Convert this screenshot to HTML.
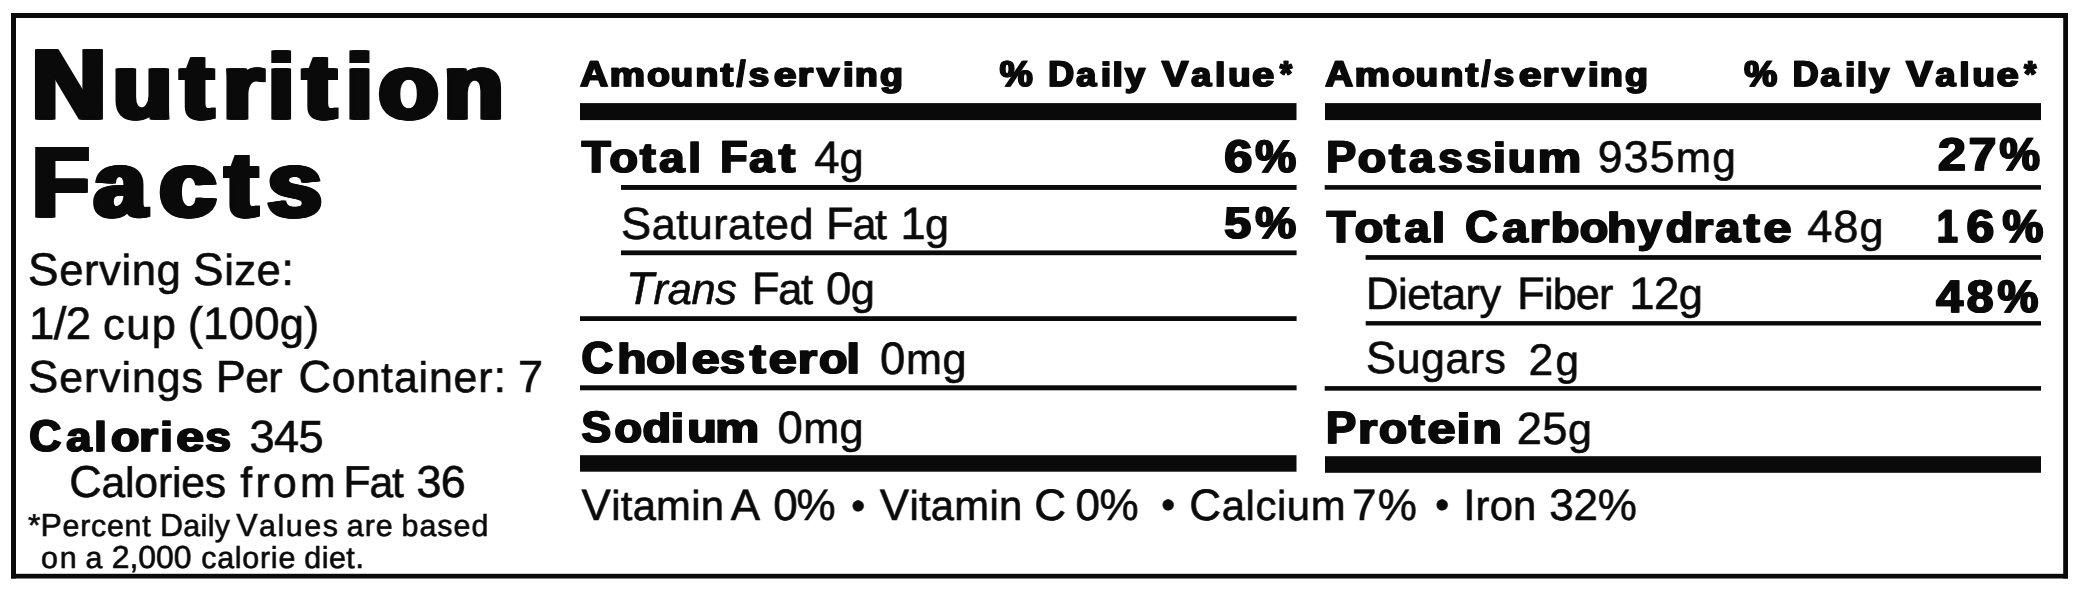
<!DOCTYPE html>
<html><head><meta charset="utf-8"><title>Nutrition Facts</title>
<style>
html,body{margin:0;padding:0;background:#fff;width:2082px;height:594px;overflow:hidden}
svg{display:block;filter:grayscale(1)}
text{font-family:"Liberation Sans",sans-serif;font-kerning:none;font-variant-ligatures:none;text-rendering:geometricPrecision;fill:#0a0a0a}
.b{font-weight:700}
.i{font-style:italic}
</style></head><body>
<svg width="2082" height="594" viewBox="0 0 2082 594">
<rect x="0" y="0" width="2082" height="594" fill="#fff"/>
<rect x="11" y="13" width="2057" height="5" fill="#0a0a0a"/>
<rect x="11" y="573.8" width="2057" height="4.7" fill="#0a0a0a"/>
<rect x="11" y="13" width="5" height="565.5" fill="#0a0a0a"/>
<rect x="2063.2" y="13" width="4.8" height="565.5" fill="#0a0a0a"/>
<rect x="580" y="103.1" width="716.5" height="17" fill="#0a0a0a"/>
<rect x="1325" y="103.1" width="716" height="17" fill="#0a0a0a"/>
<rect x="580" y="455.2" width="716.5" height="16.5" fill="#0a0a0a"/>
<rect x="1325" y="456.2" width="716" height="16.6" fill="#0a0a0a"/>
<rect x="621" y="185" width="675.6" height="4.9" fill="#0a0a0a"/>
<rect x="621" y="250.4" width="675.6" height="4.8" fill="#0a0a0a"/>
<rect x="580" y="316.2" width="716.6" height="4.8" fill="#0a0a0a"/>
<rect x="580" y="385.3" width="716.6" height="5" fill="#0a0a0a"/>
<rect x="1324.7" y="185.1" width="716.3" height="4.6" fill="#0a0a0a"/>
<rect x="1365.6" y="255.1" width="675.4" height="4.7" fill="#0a0a0a"/>
<rect x="1365.7" y="321.1" width="675.3" height="4.4" fill="#0a0a0a"/>
<rect x="1324.7" y="386.1" width="716.3" height="4.6" fill="#0a0a0a"/>
<defs><filter id="smH" x="-5%" y="-5%" width="110%" height="110%" color-interpolation-filters="sRGB"><feOffset in="SourceGraphic" dx="1" dy="0" result="o0"/><feOffset in="SourceGraphic" dx="2" dy="0" result="o1"/><feOffset in="SourceGraphic" dx="3" dy="0" result="o2"/><feOffset in="SourceGraphic" dx="4" dy="0" result="o3"/><feMerge><feMergeNode in="SourceGraphic"/><feMergeNode in="o0"/><feMergeNode in="o1"/><feMergeNode in="o2"/><feMergeNode in="o3"/></feMerge></filter>
<filter id="smRB" x="-5%" y="-5%" width="110%" height="110%" color-interpolation-filters="sRGB"><feOffset in="SourceGraphic" dx="1" dy="0" result="o0"/><feMerge><feMergeNode in="SourceGraphic"/><feMergeNode in="o0"/></feMerge></filter>
<filter id="smHB" x="-5%" y="-5%" width="110%" height="110%" color-interpolation-filters="sRGB"><feOffset in="SourceGraphic" dx="1" dy="0" result="o0"/><feMerge><feMergeNode in="SourceGraphic"/><feMergeNode in="o0"/></feMerge></filter></defs>
<g filter="url(#smH)">
<text class="b" font-size="97.68" stroke="#0a0a0a" stroke-width="3.2" transform="translate(29.79 118.2) scale(1.0557 1)">N</text>
<text class="b" font-size="97.68" stroke="#0a0a0a" stroke-width="3.2" transform="translate(111.32 118.2) scale(1.0602 1)"><tspan font-size="90.84">u</tspan></text>
<text class="b" font-size="97.68" stroke="#0a0a0a" stroke-width="3.2" transform="translate(178.63 118.2) scale(1.0758 1)"><tspan font-size="90.84">t</tspan></text>
<text class="b" font-size="97.68" stroke="#0a0a0a" stroke-width="3.2" transform="translate(220.96 118.2) scale(1.1479 1)"><tspan font-size="90.84">r</tspan></text>
<text class="b" font-size="97.68" stroke="#0a0a0a" stroke-width="3.2" transform="translate(266.62 118.2) scale(1.0087 1)"><tspan font-size="90.84">i</tspan></text>
<text class="b" font-size="97.68" stroke="#0a0a0a" stroke-width="3.2" transform="translate(301.33 118.2) scale(1.0854 1)"><tspan font-size="90.84">t</tspan></text>
<text class="b" font-size="97.68" stroke="#0a0a0a" stroke-width="3.2" transform="translate(344.53 118.2) scale(1.0279 1)"><tspan font-size="90.84">i</tspan></text>
<text class="b" font-size="97.68" stroke="#0a0a0a" stroke-width="3.2" transform="translate(376.71 118.2) scale(1.0738 1)"><tspan font-size="90.84">o</tspan></text>
<text class="b" font-size="97.68" stroke="#0a0a0a" stroke-width="3.2" transform="translate(442 118.2) scale(1.0708 1)"><tspan font-size="90.84">n</tspan></text>
<text class="b" font-size="97.97" stroke="#0a0a0a" stroke-width="3.2" transform="translate(30.54 216.3) scale(0.9414 1)">F</text>
<text class="b" font-size="97.97" stroke="#0a0a0a" stroke-width="3.2" transform="translate(92.1 216.3) scale(1.0294 1)"><tspan font-size="91.11">a</tspan></text>
<text class="b" font-size="97.97" stroke="#0a0a0a" stroke-width="3.2" transform="translate(157.51 216.3) scale(1.1167 1)"><tspan font-size="91.11">c</tspan></text>
<text class="b" font-size="97.97" stroke="#0a0a0a" stroke-width="3.2" transform="translate(223.41 216.3) scale(1.0538 1)"><tspan font-size="91.11">t</tspan></text>
<text class="b" font-size="97.97" stroke="#0a0a0a" stroke-width="3.2" transform="translate(265.7 216.3) scale(1.0633 1)"><tspan font-size="91.11">s</tspan></text>
</g>
<g>
<text font-size="45.79" letter-spacing="0.61" stroke="#0a0a0a" stroke-width="0.6" transform="translate(28.02 284.7) scale(1 1)">S<tspan font-size="43.5">erving</tspan></text>
<text font-size="45.79" letter-spacing="0.47" stroke="#0a0a0a" stroke-width="0.6" transform="translate(193.12 284.7) scale(1 1)">S<tspan font-size="43.5">ize</tspan>:</text>
<text font-size="45.49" letter-spacing="-0.55" stroke="#0a0a0a" stroke-width="0.6" transform="translate(29.03 338.6) scale(1 1)">1/2</text>
<text font-size="45.49" letter-spacing="1.63" stroke="#0a0a0a" stroke-width="0.6" transform="translate(102.96 338.6) scale(1 1)"><tspan font-size="43.22">cup</tspan></text>
<text font-size="45.49" letter-spacing="0.24" stroke="#0a0a0a" stroke-width="0.6" transform="translate(187.68 338.6) scale(1 1)">(100<tspan font-size="43.22">g</tspan>)</text>
<text font-size="44.91" letter-spacing="1.03" stroke="#0a0a0a" stroke-width="0.6" transform="translate(28.26 392.4) scale(1 1)">S<tspan font-size="42.67">ervings</tspan></text>
<text font-size="44.91" letter-spacing="-0.65" stroke="#0a0a0a" stroke-width="0.6" transform="translate(215.82 392.4) scale(1 1)">P<tspan font-size="42.67">er</tspan></text>
<text font-size="44.91" letter-spacing="0.93" stroke="#0a0a0a" stroke-width="0.6" transform="translate(298.42 392.4) scale(1 1)">C<tspan font-size="42.67">ontainer</tspan>:</text>
<text font-size="44.91" stroke="#0a0a0a" stroke-width="0.6" transform="translate(517.9 392.4) scale(1 1)">7</text>
<text font-size="45.06" letter-spacing="-0.59" stroke="#0a0a0a" stroke-width="0.6" transform="translate(249.58 451.7) scale(1 1)">345</text>
<text font-size="44.77" letter-spacing="-0.1" stroke="#0a0a0a" stroke-width="0.6" transform="translate(69.23 496.7) scale(1 1)">C<tspan font-size="42.53">alories</tspan></text>
<text font-size="44.77" letter-spacing="3.38" stroke="#0a0a0a" stroke-width="0.6" transform="translate(240.2 496.7) scale(1 1)"><tspan font-size="42.53">from</tspan></text>
<text font-size="44.77" letter-spacing="-1.02" stroke="#0a0a0a" stroke-width="0.6" transform="translate(343.13 496.7) scale(1 1)">F<tspan font-size="42.53">at</tspan></text>
<text font-size="44.77" letter-spacing="-0.72" stroke="#0a0a0a" stroke-width="0.6" transform="translate(416.49 496.7) scale(1 1)">36</text>
<text font-size="31.69" stroke="#0a0a0a" stroke-width="0.6" transform="translate(28.09 535.6) scale(1 1)">*</text>
<text font-size="31.83" letter-spacing="0.78" stroke="#0a0a0a" stroke-width="0.6" transform="translate(40.59 535.6) scale(1 1)">P<tspan font-size="30.24">ercent</tspan></text>
<text font-size="31.83" letter-spacing="0.43" stroke="#0a0a0a" stroke-width="0.6" transform="translate(159.89 535.6) scale(1 1)">D<tspan font-size="30.24">aily</tspan></text>
<text font-size="31.83" letter-spacing="1.64" stroke="#0a0a0a" stroke-width="0.6" transform="translate(236.16 535.6) scale(1 1)">V<tspan font-size="30.24">alues</tspan></text>
<text font-size="31.83" letter-spacing="1.06" stroke="#0a0a0a" stroke-width="0.6" transform="translate(346.82 535.6) scale(1 1)"><tspan font-size="30.24">are</tspan></text>
<text font-size="31.83" letter-spacing="1.13" stroke="#0a0a0a" stroke-width="0.6" transform="translate(401.45 535.6) scale(1 1)"><tspan font-size="30.24">based</tspan></text>
<text font-size="31.83" letter-spacing="2.1" stroke="#0a0a0a" stroke-width="0.6" transform="translate(40.93 567.5) scale(1 1)"><tspan font-size="30.24">on</tspan></text>
<text font-size="31.83" stroke="#0a0a0a" stroke-width="0.6" transform="translate(85.42 567.5) scale(1 1)"><tspan font-size="30.24">a</tspan></text>
<text font-size="31.83" letter-spacing="0.02" stroke="#0a0a0a" stroke-width="0.6" transform="translate(111.7 567.5) scale(1 1)">2,000</text>
<text font-size="31.83" letter-spacing="0.82" stroke="#0a0a0a" stroke-width="0.6" transform="translate(201.22 567.5) scale(1 1)"><tspan font-size="30.24">calorie</tspan></text>
<text font-size="31.83" letter-spacing="0.59" stroke="#0a0a0a" stroke-width="0.6" transform="translate(304.23 567.5) scale(1 1)"><tspan font-size="30.24">diet</tspan>.</text>
<text font-size="45.49" letter-spacing="-0.11" stroke="#0a0a0a" stroke-width="0.6" transform="translate(814.26 172.6) scale(1 1)">4<tspan font-size="43.22">g</tspan></text>
<text font-size="45.2" letter-spacing="0.57" stroke="#0a0a0a" stroke-width="0.6" transform="translate(621.05 238.6) scale(1 1)">S<tspan font-size="42.94">aturated</tspan></text>
<text font-size="45.2" letter-spacing="-1.2" stroke="#0a0a0a" stroke-width="0.6" transform="translate(825.99 238.6) scale(1 1)">F<tspan font-size="42.94">at</tspan></text>
<text font-size="45.2" letter-spacing="-0.71" stroke="#0a0a0a" stroke-width="0.6" transform="translate(900.46 238.6) scale(1 1)">1<tspan font-size="42.94">g</tspan></text>
<text font-size="45.49" letter-spacing="-1.39" stroke="#0a0a0a" stroke-width="0.6" transform="translate(751.87 304) scale(1 1)">F<tspan font-size="43.22">at</tspan></text>
<text font-size="45.49" letter-spacing="-0.68" stroke="#0a0a0a" stroke-width="0.6" transform="translate(826.12 304) scale(1 1)">0<tspan font-size="43.22">g</tspan></text>
<text font-size="45.35" letter-spacing="0.74" stroke="#0a0a0a" stroke-width="0.6" transform="translate(879.93 373.5) scale(1 1)">0<tspan font-size="43.08">mg</tspan></text>
<text font-size="45.35" letter-spacing="0.49" stroke="#0a0a0a" stroke-width="0.6" transform="translate(777.43 442.7) scale(1 1)">0<tspan font-size="43.08">mg</tspan></text>
<text font-size="43.9" letter-spacing="0.3" stroke="#0a0a0a" stroke-width="0.6" transform="translate(581.61 520.4) scale(1 1)">V<tspan font-size="41.7">itamin</tspan></text>
<text font-size="43.9" stroke="#0a0a0a" stroke-width="0.6" transform="translate(730.81 520.4) scale(1 1)">A</text>
<text font-size="43.9" letter-spacing="-1.16" stroke="#0a0a0a" stroke-width="0.6" transform="translate(773.29 520.4) scale(1 1)">0%</text>
<text font-size="43.9" letter-spacing="0.31" stroke="#0a0a0a" stroke-width="0.6" transform="translate(879.81 520.4) scale(1 1)">V<tspan font-size="41.7">itamin</tspan></text>
<text font-size="43.9" stroke="#0a0a0a" stroke-width="0.6" transform="translate(1034.17 520.4) scale(1 1)">C</text>
<text font-size="43.9" letter-spacing="-0.36" stroke="#0a0a0a" stroke-width="0.6" transform="translate(1075.49 520.4) scale(1 1)">0%</text>
<text font-size="43.9" letter-spacing="0.66" stroke="#0a0a0a" stroke-width="0.6" transform="translate(1189.27 520.4) scale(1 1)">C<tspan font-size="41.7">alcium</tspan></text>
<text font-size="43.9" letter-spacing="1.17" stroke="#0a0a0a" stroke-width="0.6" transform="translate(1352.05 520.4) scale(1 1)">7%</text>
<text font-size="43.9" letter-spacing="0.16" stroke="#0a0a0a" stroke-width="0.6" transform="translate(1463.25 520.4) scale(1 1)">I<tspan font-size="41.7">ron</tspan></text>
<text font-size="43.9" letter-spacing="-0.11" stroke="#0a0a0a" stroke-width="0.6" transform="translate(1549.13 520.4) scale(1 1)">32%</text>
<text font-size="39.48" stroke="#0a0a0a" stroke-width="0.6" transform="translate(851.19 518.58) scale(1 1)">•</text>
<text font-size="39.48" stroke="#0a0a0a" stroke-width="0.6" transform="translate(1161.14 518.33) scale(1 1)">•</text>
<text font-size="39.48" stroke="#0a0a0a" stroke-width="0.6" transform="translate(1435.29 518.33) scale(1 1)">•</text>
<text font-size="44.48" letter-spacing="1.3" stroke="#0a0a0a" stroke-width="0.6" transform="translate(1597.72 172.1) scale(1 1)">935<tspan font-size="42.25">mg</tspan></text>
<text font-size="45.2" letter-spacing="0.87" stroke="#0a0a0a" stroke-width="0.6" transform="translate(1807.36 242.3) scale(1 1)">48<tspan font-size="42.94">g</tspan></text>
<text font-size="45.49" letter-spacing="-0.55" stroke="#0a0a0a" stroke-width="0.6" transform="translate(1365.77 308.7) scale(1 1)">D<tspan font-size="43.22">ietary</tspan></text>
<text font-size="45.49" letter-spacing="-0.88" stroke="#0a0a0a" stroke-width="0.6" transform="translate(1517.07 308.7) scale(1 1)">F<tspan font-size="43.22">iber</tspan></text>
<text font-size="45.49" letter-spacing="-0.45" stroke="#0a0a0a" stroke-width="0.6" transform="translate(1629.13 308.7) scale(1 1)">12<tspan font-size="43.22">g</tspan></text>
<text font-size="44.91" letter-spacing="0.64" stroke="#0a0a0a" stroke-width="0.6" transform="translate(1366.06 373.3) scale(1 1)">S<tspan font-size="42.67">ugars</tspan></text>
<text font-size="44.33" letter-spacing="2.37" stroke="#0a0a0a" stroke-width="0.6" transform="translate(1528.47 375.2) scale(1 1)">2<tspan font-size="42.12">g</tspan></text>
<text font-size="45.2" letter-spacing="0.49" stroke="#0a0a0a" stroke-width="0.6" transform="translate(1516.73 443.9) scale(1 1)">25<tspan font-size="42.94">g</tspan></text>
</g>
<g filter="url(#smRB)">
<text class="b" font-size="44.19" stroke="#0a0a0a" stroke-width="1.3" transform="translate(28.83 451.05) scale(1.0037 1)">C</text>
<text class="b" font-size="44.19" stroke="#0a0a0a" stroke-width="1.3" transform="translate(65.79 451.05) scale(1.1072 1)"><tspan font-size="41.09">a</tspan></text>
<text class="b" font-size="44.19" stroke="#0a0a0a" stroke-width="1.3" transform="translate(93.67 451.05) scale(1.0954 1)"><tspan font-size="41.09">l</tspan></text>
<text class="b" font-size="44.19" stroke="#0a0a0a" stroke-width="1.3" transform="translate(110.62 451.05) scale(1.134 1)"><tspan font-size="41.09">o</tspan></text>
<text class="b" font-size="44.19" stroke="#0a0a0a" stroke-width="1.3" transform="translate(138.55 451.05) scale(1.189 1)"><tspan font-size="41.09">r</tspan></text>
<text class="b" font-size="44.19" stroke="#0a0a0a" stroke-width="1.3" transform="translate(159.77 451.05) scale(1.0954 1)"><tspan font-size="41.09">i</tspan></text>
<text class="b" font-size="44.19" stroke="#0a0a0a" stroke-width="1.3" transform="translate(175.64 451.05) scale(1.2154 1)"><tspan font-size="41.09">e</tspan></text>
<text class="b" font-size="44.19" stroke="#0a0a0a" stroke-width="1.3" transform="translate(204.7 451.05) scale(1.1273 1)"><tspan font-size="41.09">s</tspan></text>
<text class="b" font-size="44.48" stroke="#0a0a0a" stroke-width="1.3" transform="translate(581.16 172.05) scale(1.0622 1)">T</text>
<text class="b" font-size="44.48" stroke="#0a0a0a" stroke-width="1.3" transform="translate(609.11 172.05) scale(1.127 1)"><tspan font-size="41.36">o</tspan></text>
<text class="b" font-size="44.48" stroke="#0a0a0a" stroke-width="1.3" transform="translate(639.57 172.05) scale(1.1376 1)"><tspan font-size="41.36">t</tspan></text>
<text class="b" font-size="44.48" stroke="#0a0a0a" stroke-width="1.3" transform="translate(658.78 172.05) scale(1.0961 1)"><tspan font-size="41.36">a</tspan></text>
<text class="b" font-size="44.48" stroke="#0a0a0a" stroke-width="1.3" transform="translate(687.63 172.05) scale(1.1039 1)"><tspan font-size="41.36">l</tspan></text>
<text class="b" font-size="44.48" stroke="#0a0a0a" stroke-width="1.3" transform="translate(719.77 172.05) scale(1.0015 1)">F</text>
<text class="b" font-size="44.48" stroke="#0a0a0a" stroke-width="1.3" transform="translate(748.79 172.05) scale(1.0918 1)"><tspan font-size="41.36">a</tspan></text>
<text class="b" font-size="44.48" stroke="#0a0a0a" stroke-width="1.3" transform="translate(778.37 172.05) scale(1.1945 1)"><tspan font-size="41.36">t</tspan></text>
<text class="b" font-size="45.49" stroke="#0a0a0a" stroke-width="1.3" transform="translate(1223.67 172.25) scale(1.112 1)">6</text>
<text class="b" font-size="45.49" stroke="#0a0a0a" stroke-width="1.3" transform="translate(1254.71 172.25) scale(1.0122 1)">%</text>
<text class="b" font-size="44.19" stroke="#0a0a0a" stroke-width="1.3" transform="translate(1223.72 238.05) scale(1.0951 1)">5</text>
<text class="b" font-size="44.19" stroke="#0a0a0a" stroke-width="1.3" transform="translate(1254.73 238.05) scale(1.0411 1)">%</text>
<text class="b" font-size="44.62" stroke="#0a0a0a" stroke-width="1.3" transform="translate(581.04 373.15) scale(0.9844 1)">C</text>
<text class="b" font-size="44.62" stroke="#0a0a0a" stroke-width="1.3" transform="translate(616.71 373.15) scale(1.1521 1)"><tspan font-size="41.5">h</tspan></text>
<text class="b" font-size="44.62" stroke="#0a0a0a" stroke-width="1.3" transform="translate(645.79 373.15) scale(1.1407 1)"><tspan font-size="41.5">o</tspan></text>
<text class="b" font-size="44.62" stroke="#0a0a0a" stroke-width="1.3" transform="translate(674.3 373.15) scale(1.1581 1)"><tspan font-size="41.5">l</tspan></text>
<text class="b" font-size="44.62" stroke="#0a0a0a" stroke-width="1.3" transform="translate(691.23 373.15) scale(1.209 1)"><tspan font-size="41.5">e</tspan></text>
<text class="b" font-size="44.62" stroke="#0a0a0a" stroke-width="1.3" transform="translate(719.62 373.15) scale(1.0839 1)"><tspan font-size="41.5">s</tspan></text>
<text class="b" font-size="44.62" stroke="#0a0a0a" stroke-width="1.3" transform="translate(749.27 373.15) scale(1.1626 1)"><tspan font-size="41.5">t</tspan></text>
<text class="b" font-size="44.62" stroke="#0a0a0a" stroke-width="1.3" transform="translate(768.32 373.15) scale(1.2137 1)"><tspan font-size="41.5">e</tspan></text>
<text class="b" font-size="44.62" stroke="#0a0a0a" stroke-width="1.3" transform="translate(797.3 373.15) scale(1.1998 1)"><tspan font-size="41.5">r</tspan></text>
<text class="b" font-size="44.62" stroke="#0a0a0a" stroke-width="1.3" transform="translate(818.41 373.15) scale(1.1236 1)"><tspan font-size="41.5">o</tspan></text>
<text class="b" font-size="44.62" stroke="#0a0a0a" stroke-width="1.3" transform="translate(846.1 373.15) scale(1.1581 1)"><tspan font-size="41.5">l</tspan></text>
<text class="b" font-size="43.75" stroke="#0a0a0a" stroke-width="1.3" transform="translate(580.88 441.75) scale(1.0141 1)">S</text>
<text class="b" font-size="43.75" stroke="#0a0a0a" stroke-width="1.3" transform="translate(613.96 441.75) scale(1.1055 1)"><tspan font-size="40.69">o</tspan></text>
<text class="b" font-size="43.75" stroke="#0a0a0a" stroke-width="1.3" transform="translate(642.03 441.75) scale(1.1512 1)"><tspan font-size="40.69">d</tspan></text>
<text class="b" font-size="43.75" stroke="#0a0a0a" stroke-width="1.3" transform="translate(670.32 441.75) scale(1.1769 1)"><tspan font-size="40.69">i</tspan></text>
<text class="b" font-size="43.75" stroke="#0a0a0a" stroke-width="1.3" transform="translate(686.66 441.75) scale(1.1934 1)"><tspan font-size="40.69">u</tspan></text>
<text class="b" font-size="43.75" stroke="#0a0a0a" stroke-width="1.3" transform="translate(714.74 441.75) scale(1.2115 1)"><tspan font-size="40.69">m</tspan></text>
<text class="b" font-size="44.62" stroke="#0a0a0a" stroke-width="1.3" transform="translate(1325.76 172.05) scale(1.0018 1)">P</text>
<text class="b" font-size="44.62" stroke="#0a0a0a" stroke-width="1.3" transform="translate(1357.31 172.05) scale(1.1193 1)"><tspan font-size="41.5">o</tspan></text>
<text class="b" font-size="44.62" stroke="#0a0a0a" stroke-width="1.3" transform="translate(1388.47 172.05) scale(1.1626 1)"><tspan font-size="41.5">t</tspan></text>
<text class="b" font-size="44.62" stroke="#0a0a0a" stroke-width="1.3" transform="translate(1408.49 172.05) scale(1.0757 1)"><tspan font-size="41.5">a</tspan></text>
<text class="b" font-size="44.62" stroke="#0a0a0a" stroke-width="1.3" transform="translate(1437.85 172.05) scale(1.0557 1)"><tspan font-size="41.5">s</tspan></text>
<text class="b" font-size="44.62" stroke="#0a0a0a" stroke-width="1.3" transform="translate(1465.4 172.05) scale(1.1122 1)"><tspan font-size="41.5">s</tspan></text>
<text class="b" font-size="44.62" stroke="#0a0a0a" stroke-width="1.3" transform="translate(1492.59 172.05) scale(1.1152 1)"><tspan font-size="41.5">i</tspan></text>
<text class="b" font-size="44.62" stroke="#0a0a0a" stroke-width="1.3" transform="translate(1507.37 172.05) scale(1.1059 1)"><tspan font-size="41.5">u</tspan></text>
<text class="b" font-size="44.62" stroke="#0a0a0a" stroke-width="1.3" transform="translate(1537.35 172.05) scale(1.1766 1)"><tspan font-size="41.5">m</tspan></text>
<text class="b" font-size="45.79" stroke="#0a0a0a" stroke-width="1.3" transform="translate(1937.38 170.15) scale(1.0924 1)">2</text>
<text class="b" font-size="45.79" stroke="#0a0a0a" stroke-width="1.3" transform="translate(1968.18 170.15) scale(1.0797 1)">7</text>
<text class="b" font-size="45.79" stroke="#0a0a0a" stroke-width="1.3" transform="translate(1998.91 170.15) scale(0.9934 1)">%</text>
<text class="b" font-size="44.62" stroke="#0a0a0a" stroke-width="1.3" transform="translate(1326.36 241.95) scale(1.048 1)">T</text>
<text class="b" font-size="44.62" stroke="#0a0a0a" stroke-width="1.3" transform="translate(1354.21 241.95) scale(1.1236 1)"><tspan font-size="41.5">o</tspan></text>
<text class="b" font-size="44.62" stroke="#0a0a0a" stroke-width="1.3" transform="translate(1383.56 241.95) scale(1.1342 1)"><tspan font-size="41.5">t</tspan></text>
<text class="b" font-size="44.62" stroke="#0a0a0a" stroke-width="1.3" transform="translate(1403.98 241.95) scale(1.0885 1)"><tspan font-size="41.5">a</tspan></text>
<text class="b" font-size="44.62" stroke="#0a0a0a" stroke-width="1.3" transform="translate(1431.56 241.95) scale(1.1295 1)"><tspan font-size="41.5">l</tspan></text>
<text class="b" font-size="44.62" stroke="#0a0a0a" stroke-width="1.3" transform="translate(1464.71 241.95) scale(1.0041 1)">C</text>
<text class="b" font-size="44.62" stroke="#0a0a0a" stroke-width="1.3" transform="translate(1501.87 241.95) scale(1.1055 1)"><tspan font-size="41.5">a</tspan></text>
<text class="b" font-size="44.62" stroke="#0a0a0a" stroke-width="1.3" transform="translate(1528.97 241.95) scale(1.214 1)"><tspan font-size="41.5">r</tspan></text>
<text class="b" font-size="44.62" stroke="#0a0a0a" stroke-width="1.3" transform="translate(1550.24 241.95) scale(1.13 1)"><tspan font-size="41.5">b</tspan></text>
<text class="b" font-size="44.62" stroke="#0a0a0a" stroke-width="1.3" transform="translate(1579.31 241.95) scale(1.1236 1)"><tspan font-size="41.5">o</tspan></text>
<text class="b" font-size="44.62" stroke="#0a0a0a" stroke-width="1.3" transform="translate(1606.5 241.95) scale(1.1568 1)"><tspan font-size="41.5">h</tspan></text>
<text class="b" font-size="44.62" stroke="#0a0a0a" stroke-width="1.3" transform="translate(1637.34 241.95) scale(1.0448 1)"><tspan font-size="41.5">y</tspan></text>
<text class="b" font-size="44.62" stroke="#0a0a0a" stroke-width="1.3" transform="translate(1665.16 241.95) scale(1.0805 1)"><tspan font-size="41.5">d</tspan></text>
<text class="b" font-size="44.62" stroke="#0a0a0a" stroke-width="1.3" transform="translate(1693.05 241.95) scale(1.2211 1)"><tspan font-size="41.5">r</tspan></text>
<text class="b" font-size="44.62" stroke="#0a0a0a" stroke-width="1.3" transform="translate(1714.69 241.95) scale(1.0842 1)"><tspan font-size="41.5">a</tspan></text>
<text class="b" font-size="44.62" stroke="#0a0a0a" stroke-width="1.3" transform="translate(1743.27 241.95) scale(1.1555 1)"><tspan font-size="41.5">t</tspan></text>
<text class="b" font-size="44.62" stroke="#0a0a0a" stroke-width="1.3" transform="translate(1763.12 241.95) scale(1.2137 1)"><tspan font-size="41.5">e</tspan></text>
<text class="b" font-size="45.79" stroke="#0a0a0a" stroke-width="1.3" transform="translate(1936.58 242.25) scale(0.814 1)">1</text>
<text class="b" font-size="45.79" stroke="#0a0a0a" stroke-width="1.3" transform="translate(1965.88 242.25) scale(1.0882 1)">6</text>
<text class="b" font-size="45.79" stroke="#0a0a0a" stroke-width="1.3" transform="translate(2001.91 242.25) scale(1.0034 1)">%</text>
<text class="b" font-size="45.35" stroke="#0a0a0a" stroke-width="1.3" transform="translate(1935.86 311.95) scale(1.0629 1)">4</text>
<text class="b" font-size="45.35" stroke="#0a0a0a" stroke-width="1.3" transform="translate(1966.26 311.95) scale(1.0597 1)">8</text>
<text class="b" font-size="45.35" stroke="#0a0a0a" stroke-width="1.3" transform="translate(1996.91 311.95) scale(1.0128 1)">%</text>
<text class="b" font-size="45.2" stroke="#0a0a0a" stroke-width="1.3" transform="translate(1325.52 443.15) scale(1.0007 1)">P</text>
<text class="b" font-size="45.2" stroke="#0a0a0a" stroke-width="1.3" transform="translate(1357.4 443.15) scale(1.1787 1)"><tspan font-size="42.04">r</tspan></text>
<text class="b" font-size="45.2" stroke="#0a0a0a" stroke-width="1.3" transform="translate(1378.42 443.15) scale(1.093 1)"><tspan font-size="42.04">o</tspan></text>
<text class="b" font-size="45.2" stroke="#0a0a0a" stroke-width="1.3" transform="translate(1408.36 443.15) scale(1.149 1)"><tspan font-size="42.04">t</tspan></text>
<text class="b" font-size="45.2" stroke="#0a0a0a" stroke-width="1.3" transform="translate(1427.11 443.15) scale(1.199 1)"><tspan font-size="42.04">e</tspan></text>
<text class="b" font-size="45.2" stroke="#0a0a0a" stroke-width="1.3" transform="translate(1456.28 443.15) scale(1.146 1)"><tspan font-size="42.04">i</tspan></text>
<text class="b" font-size="45.2" stroke="#0a0a0a" stroke-width="1.3" transform="translate(1471.98 443.15) scale(1.1388 1)"><tspan font-size="42.04">n</tspan></text>
</g>
<g filter="url(#smHB)">
<text class="b" font-size="35.9" stroke="#0a0a0a" stroke-width="1.3" transform="translate(579.84 86.05) scale(1.0714 1)">A</text>
<text class="b" font-size="35.9" stroke="#0a0a0a" stroke-width="1.3" transform="translate(609.26 86.05) scale(1.1865 1)"><tspan font-size="33.39">m</tspan></text>
<text class="b" font-size="35.9" stroke="#0a0a0a" stroke-width="1.3" transform="translate(646.68 86.05) scale(1.1055 1)"><tspan font-size="33.39">o</tspan></text>
<text class="b" font-size="35.9" stroke="#0a0a0a" stroke-width="1.3" transform="translate(670.35 86.05) scale(1.0905 1)"><tspan font-size="33.39">u</tspan></text>
<text class="b" font-size="35.9" stroke="#0a0a0a" stroke-width="1.3" transform="translate(695.06 86.05) scale(1.1192 1)"><tspan font-size="33.39">n</tspan></text>
<text class="b" font-size="35.9" stroke="#0a0a0a" stroke-width="1.3" transform="translate(720.37 86.05) scale(1.1117 1)"><tspan font-size="33.39">t</tspan></text>
<text class="b" font-size="35.9" stroke="#0a0a0a" stroke-width="1.3" transform="translate(736.25 86.05) scale(0.8512 1)">/</text>
<text class="b" font-size="35.9" stroke="#0a0a0a" stroke-width="1.3" transform="translate(748.33 86.05) scale(1.0966 1)"><tspan font-size="33.39">s</tspan></text>
<text class="b" font-size="35.9" stroke="#0a0a0a" stroke-width="1.3" transform="translate(773.41 86.05) scale(1.2053 1)"><tspan font-size="33.39">e</tspan></text>
<text class="b" font-size="35.9" stroke="#0a0a0a" stroke-width="1.3" transform="translate(797.27 86.05) scale(1.1823 1)"><tspan font-size="33.39">r</tspan></text>
<text class="b" font-size="35.9" stroke="#0a0a0a" stroke-width="1.3" transform="translate(816.42 86.05) scale(1.1995 1)"><tspan font-size="33.39">v</tspan></text>
<text class="b" font-size="35.9" stroke="#0a0a0a" stroke-width="1.3" transform="translate(842.46 86.05) scale(1.1562 1)"><tspan font-size="33.39">i</tspan></text>
<text class="b" font-size="35.9" stroke="#0a0a0a" stroke-width="1.3" transform="translate(854.57 86.05) scale(1.1134 1)"><tspan font-size="33.39">n</tspan></text>
<text class="b" font-size="35.9" stroke="#0a0a0a" stroke-width="1.3" transform="translate(879.49 86.05) scale(1.122 1)"><tspan font-size="33.39">g</tspan></text>
<text class="b" font-size="35.9" stroke="#0a0a0a" stroke-width="1.3" transform="translate(999.35 86.05) scale(1.0324 1)">%</text>
<text class="b" font-size="35.9" stroke="#0a0a0a" stroke-width="1.3" transform="translate(1047.86 86.05) scale(0.9949 1)">D</text>
<text class="b" font-size="35.9" stroke="#0a0a0a" stroke-width="1.3" transform="translate(1075.75 86.05) scale(1.0731 1)"><tspan font-size="33.39">a</tspan></text>
<text class="b" font-size="35.9" stroke="#0a0a0a" stroke-width="1.3" transform="translate(1100.4 86.05) scale(1.0712 1)"><tspan font-size="33.39">i</tspan></text>
<text class="b" font-size="35.9" stroke="#0a0a0a" stroke-width="1.3" transform="translate(1112.3 86.05) scale(1.0712 1)"><tspan font-size="33.39">l</tspan></text>
<text class="b" font-size="35.9" stroke="#0a0a0a" stroke-width="1.3" transform="translate(1124.52 86.05) scale(1.0757 1)"><tspan font-size="33.39">y</tspan></text>
<text class="b" font-size="35.9" stroke="#0a0a0a" stroke-width="1.3" transform="translate(1161.54 86.05) scale(1.0947 1)">V</text>
<text class="b" font-size="35.9" stroke="#0a0a0a" stroke-width="1.3" transform="translate(1190.75 86.05) scale(1.0731 1)"><tspan font-size="33.39">a</tspan></text>
<text class="b" font-size="35.9" stroke="#0a0a0a" stroke-width="1.3" transform="translate(1214.7 86.05) scale(1.0712 1)"><tspan font-size="33.39">l</tspan></text>
<text class="b" font-size="35.9" stroke="#0a0a0a" stroke-width="1.3" transform="translate(1227.65 86.05) scale(1.0905 1)"><tspan font-size="33.39">u</tspan></text>
<text class="b" font-size="35.9" stroke="#0a0a0a" stroke-width="1.3" transform="translate(1251.83 86.05) scale(1.1766 1)"><tspan font-size="33.39">e</tspan></text>
<text class="b" font-size="35.9" stroke="#0a0a0a" stroke-width="1.3" transform="translate(1279.56 86.05) scale(0.8525 1)">*</text>
<text class="b" font-size="35.9" stroke="#0a0a0a" stroke-width="1.3" transform="translate(1324.84 86.05) scale(1.0714 1)">A</text>
<text class="b" font-size="35.9" stroke="#0a0a0a" stroke-width="1.3" transform="translate(1354.26 86.05) scale(1.1865 1)"><tspan font-size="33.39">m</tspan></text>
<text class="b" font-size="35.9" stroke="#0a0a0a" stroke-width="1.3" transform="translate(1391.68 86.05) scale(1.1055 1)"><tspan font-size="33.39">o</tspan></text>
<text class="b" font-size="35.9" stroke="#0a0a0a" stroke-width="1.3" transform="translate(1415.35 86.05) scale(1.0905 1)"><tspan font-size="33.39">u</tspan></text>
<text class="b" font-size="35.9" stroke="#0a0a0a" stroke-width="1.3" transform="translate(1440.06 86.05) scale(1.1192 1)"><tspan font-size="33.39">n</tspan></text>
<text class="b" font-size="35.9" stroke="#0a0a0a" stroke-width="1.3" transform="translate(1465.37 86.05) scale(1.1117 1)"><tspan font-size="33.39">t</tspan></text>
<text class="b" font-size="35.9" stroke="#0a0a0a" stroke-width="1.3" transform="translate(1481.25 86.05) scale(0.8512 1)">/</text>
<text class="b" font-size="35.9" stroke="#0a0a0a" stroke-width="1.3" transform="translate(1493.33 86.05) scale(1.0966 1)"><tspan font-size="33.39">s</tspan></text>
<text class="b" font-size="35.9" stroke="#0a0a0a" stroke-width="1.3" transform="translate(1518.41 86.05) scale(1.2053 1)"><tspan font-size="33.39">e</tspan></text>
<text class="b" font-size="35.9" stroke="#0a0a0a" stroke-width="1.3" transform="translate(1542.27 86.05) scale(1.1823 1)"><tspan font-size="33.39">r</tspan></text>
<text class="b" font-size="35.9" stroke="#0a0a0a" stroke-width="1.3" transform="translate(1561.42 86.05) scale(1.1995 1)"><tspan font-size="33.39">v</tspan></text>
<text class="b" font-size="35.9" stroke="#0a0a0a" stroke-width="1.3" transform="translate(1587.46 86.05) scale(1.1562 1)"><tspan font-size="33.39">i</tspan></text>
<text class="b" font-size="35.9" stroke="#0a0a0a" stroke-width="1.3" transform="translate(1599.57 86.05) scale(1.1134 1)"><tspan font-size="33.39">n</tspan></text>
<text class="b" font-size="35.9" stroke="#0a0a0a" stroke-width="1.3" transform="translate(1624.49 86.05) scale(1.122 1)"><tspan font-size="33.39">g</tspan></text>
<text class="b" font-size="35.9" stroke="#0a0a0a" stroke-width="1.3" transform="translate(1743.65 86.05) scale(1.0324 1)">%</text>
<text class="b" font-size="35.9" stroke="#0a0a0a" stroke-width="1.3" transform="translate(1792.16 86.05) scale(0.9949 1)">D</text>
<text class="b" font-size="35.9" stroke="#0a0a0a" stroke-width="1.3" transform="translate(1820.05 86.05) scale(1.0731 1)"><tspan font-size="33.39">a</tspan></text>
<text class="b" font-size="35.9" stroke="#0a0a0a" stroke-width="1.3" transform="translate(1844.7 86.05) scale(1.0712 1)"><tspan font-size="33.39">i</tspan></text>
<text class="b" font-size="35.9" stroke="#0a0a0a" stroke-width="1.3" transform="translate(1856.6 86.05) scale(1.0712 1)"><tspan font-size="33.39">l</tspan></text>
<text class="b" font-size="35.9" stroke="#0a0a0a" stroke-width="1.3" transform="translate(1868.82 86.05) scale(1.0757 1)"><tspan font-size="33.39">y</tspan></text>
<text class="b" font-size="35.9" stroke="#0a0a0a" stroke-width="1.3" transform="translate(1905.84 86.05) scale(1.0947 1)">V</text>
<text class="b" font-size="35.9" stroke="#0a0a0a" stroke-width="1.3" transform="translate(1935.05 86.05) scale(1.0731 1)"><tspan font-size="33.39">a</tspan></text>
<text class="b" font-size="35.9" stroke="#0a0a0a" stroke-width="1.3" transform="translate(1959 86.05) scale(1.0712 1)"><tspan font-size="33.39">l</tspan></text>
<text class="b" font-size="35.9" stroke="#0a0a0a" stroke-width="1.3" transform="translate(1971.95 86.05) scale(1.0905 1)"><tspan font-size="33.39">u</tspan></text>
<text class="b" font-size="35.9" stroke="#0a0a0a" stroke-width="1.3" transform="translate(1996.13 86.05) scale(1.1766 1)"><tspan font-size="33.39">e</tspan></text>
<text class="b" font-size="35.9" stroke="#0a0a0a" stroke-width="1.3" transform="translate(2023.86 86.05) scale(0.8525 1)">*</text>
</g>
<g>
<text class="i" font-size="45.64" letter-spacing="-0.36" stroke="#0a0a0a" stroke-width="0.6" transform="translate(626.1 304.4) scale(1 1)">T<tspan font-size="43.36">rans</tspan></text>
</g>
</svg>
</body></html>
